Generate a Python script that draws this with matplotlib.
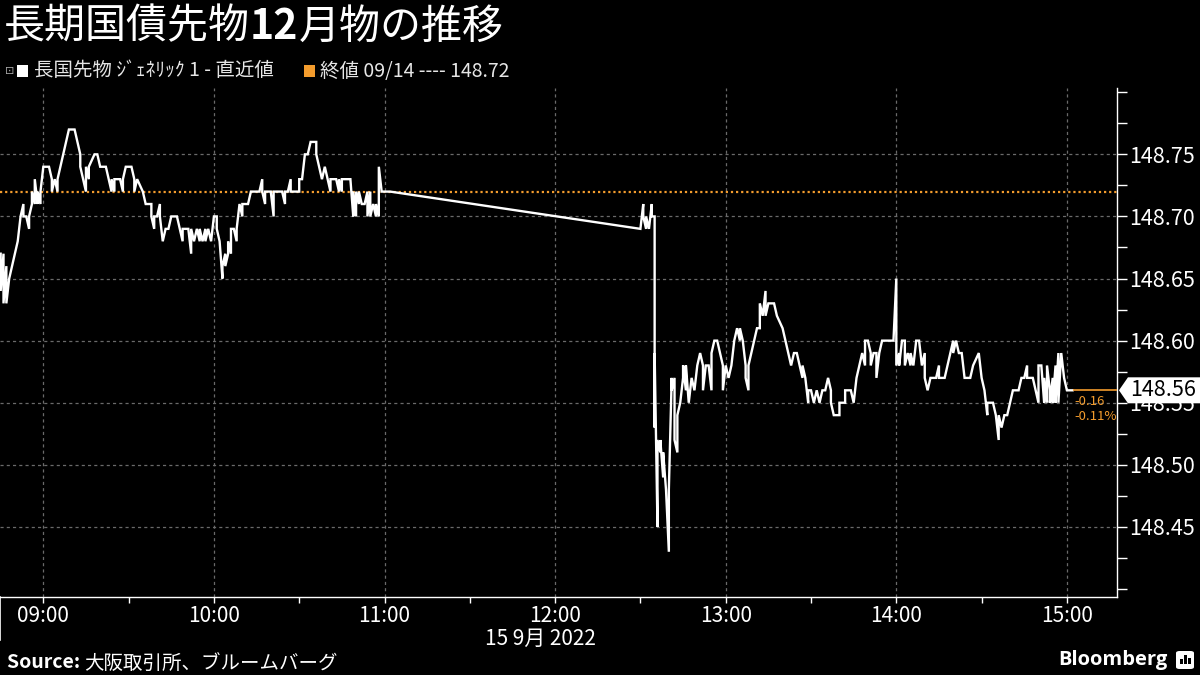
import matplotlib
matplotlib.use("Agg")
import matplotlib.pyplot as plt
import matplotlib.dates as mdates
from matplotlib.patches import Polygon, Rectangle, FancyBboxPatch
from matplotlib.transforms import IdentityTransform
import numpy as np
import pandas as pd

plt.rcParams['font.family'] = ['Noto Sans CJK JP', 'DejaVu Sans']

# JGB 10y futures (Dec contract), 15 Sep 2022
day = "2022-09-15"
prev_close = 148.72

am_times = ["08:45", "08:45", "08:46", "08:46", "08:47", "08:47", "08:48", "08:49", "08:50", "08:51",
            "08:52", "08:53", "08:53", "08:54", "08:55", "08:55", "08:56", "08:56", "08:57", "08:57",
            "08:58", "08:58", "08:59", "08:59", "09:00", "09:02", "09:03", "09:03", "09:04", "09:05",
            "09:05", "09:06", "09:07", "09:08", "09:09", "09:11", "09:12", "09:13", "09:13", "09:14",
            "09:15", "09:15", "09:16", "09:16", "09:18", "09:19", "09:20", "09:22", "09:23", "09:24",
            "09:24", "09:25", "09:25", "09:27", "09:28", "09:28", "09:29", "09:31", "09:32", "09:32",
            "09:33", "09:35", "09:36", "09:38", "09:38", "09:39", "09:39", "09:40", "09:41", "09:41",
            "09:42", "09:43", "09:44", "09:45", "09:47", "09:48", "09:49", "09:49", "09:51", "09:52",
            "09:52", "09:53", "09:54", "09:55", "09:55", "09:56", "09:57", "09:57", "09:58", "09:59",
            "10:00", "10:01", "10:01", "10:02", "10:03", "10:03", "10:04", "10:04", "10:05", "10:05",
            "10:06", "10:06", "10:07", "10:08", "10:08", "10:09", "10:10", "10:10", "10:12", "10:13",
            "10:16", "10:17", "10:17", "10:18", "10:18", "10:20", "10:21", "10:21", "10:24", "10:25",
            "10:25", "10:26", "10:27", "10:27", "10:30", "10:30", "10:31", "10:32", "10:33", "10:34",
            "10:36", "10:36", "10:37", "10:38", "10:39", "10:40", "10:41", "10:41", "10:43", "10:44",
            "10:44", "10:45", "10:45", "10:48", "10:49", "10:49", "10:50", "10:50", "10:51", "10:51",
            "10:52", "10:53", "10:54", "10:54", "10:55", "10:55", "10:56", "10:57", "10:57", "10:58",
            "10:58", "10:59", "11:02"]
am_prices = [148.67, 148.64, 148.67, 148.63, 148.66, 148.63, 148.65, 148.66, 148.67, 148.68,
             148.70, 148.71, 148.70, 148.70, 148.69, 148.70, 148.71, 148.72, 148.71, 148.73,
             148.71, 148.72, 148.71, 148.72, 148.74, 148.74, 148.73, 148.72, 148.73, 148.72,
             148.73, 148.74, 148.75, 148.76, 148.77, 148.77, 148.76, 148.75, 148.74, 148.73,
             148.72, 148.74, 148.73, 148.74, 148.75, 148.75, 148.74, 148.74, 148.73, 148.72,
             148.73, 148.72, 148.73, 148.73, 148.72, 148.73, 148.74, 148.74, 148.73, 148.72,
             148.73, 148.72, 148.71, 148.71, 148.70, 148.69, 148.70, 148.70, 148.71, 148.70,
             148.68, 148.69, 148.69, 148.70, 148.70, 148.69, 148.68, 148.69, 148.69, 148.67,
             148.69, 148.68, 148.69, 148.68, 148.69, 148.68, 148.69, 148.68, 148.69, 148.68,
             148.70, 148.70, 148.69, 148.68, 148.65, 148.66, 148.67, 148.66, 148.67, 148.68,
             148.67, 148.69, 148.69, 148.68, 148.69, 148.71, 148.70, 148.71, 148.71, 148.72,
             148.72, 148.73, 148.72, 148.71, 148.72, 148.72, 148.70, 148.72, 148.72, 148.71,
             148.72, 148.72, 148.73, 148.72, 148.72, 148.73, 148.73, 148.75, 148.75, 148.76,
             148.76, 148.75, 148.74, 148.73, 148.74, 148.73, 148.72, 148.73, 148.73, 148.72,
             148.73, 148.72, 148.73, 148.73, 148.70, 148.72, 148.70, 148.72, 148.71, 148.72,
             148.71, 148.71, 148.72, 148.70, 148.72, 148.70, 148.71, 148.70, 148.71, 148.70,
             148.74, 148.72, 148.72]

pm_times = ["12:30", "12:31", "12:31", "12:32", "12:32", "12:33", "12:34", "12:34", "12:35", "12:35",
            "12:35", "12:36", "12:36", "12:37", "12:37", "12:38", "12:38", "12:39", "12:40", "12:40",
            "12:41", "12:41", "12:42", "12:42", "12:43", "12:43", "12:44", "12:45", "12:45", "12:46",
            "12:46", "12:47", "12:48", "12:49", "12:50", "12:51", "12:52", "12:52", "12:53", "12:54",
            "12:55", "12:55", "12:56", "12:57", "12:58", "12:59", "12:59", "13:00", "13:01", "13:02",
            "13:03", "13:04", "13:05", "13:05", "13:06", "13:07", "13:07", "13:08", "13:08", "13:10",
            "13:11", "13:12", "13:12", "13:13", "13:14", "13:14", "13:15", "13:17", "13:18", "13:20",
            "13:21", "13:22", "13:23", "13:24", "13:25", "13:26", "13:27", "13:27", "13:28", "13:29",
            "13:29", "13:30", "13:31", "13:32", "13:33", "13:34", "13:35", "13:36", "13:37", "13:37",
            "13:38", "13:40", "13:40", "13:42", "13:42", "13:44", "13:45", "13:46", "13:47", "13:48",
            "13:49", "13:49", "13:50", "13:51", "13:51", "13:52", "13:53", "13:53", "13:54", "13:55",
            "13:59", "14:00", "14:00", "14:01", "14:01", "14:02", "14:03", "14:03", "14:04", "14:05",
            "14:05", "14:06", "14:07", "14:08", "14:09", "14:10", "14:10", "14:11", "14:12", "14:14",
            "14:15", "14:15", "14:17", "14:18", "14:19", "14:20", "14:20", "14:21", "14:22", "14:23",
            "14:24", "14:26", "14:27", "14:29", "14:30", "14:31", "14:32", "14:32", "14:34", "14:35",
            "14:36", "14:36", "14:37", "14:38", "14:39", "14:40", "14:41", "14:43", "14:44", "14:45",
            "14:46", "14:46", "14:48", "14:49", "14:50", "14:50", "14:51", "14:52", "14:52", "14:53",
            "14:53", "14:54", "14:54", "14:55", "14:55", "14:56", "14:56", "14:57", "14:57", "14:58",
            "14:59", "15:00", "15:02"]
pm_prices = [148.69, 148.71, 148.70, 148.69, 148.70, 148.69, 148.71, 148.70, 148.70, 148.53,
             148.59, 148.45, 148.52, 148.51, 148.52, 148.49, 148.51, 148.48, 148.43, 148.48,
             148.57, 148.56, 148.57, 148.52, 148.51, 148.54, 148.55, 148.57, 148.58, 148.56,
             148.58, 148.55, 148.57, 148.56, 148.58, 148.59, 148.58, 148.56, 148.58, 148.58,
             148.56, 148.59, 148.60, 148.60, 148.59, 148.58, 148.56, 148.58, 148.57, 148.58,
             148.60, 148.61, 148.60, 148.61, 148.60, 148.58, 148.57, 148.56, 148.58, 148.60,
             148.61, 148.61, 148.63, 148.62, 148.64, 148.62, 148.63, 148.63, 148.62, 148.61,
             148.60, 148.59, 148.58, 148.59, 148.59, 148.58, 148.57, 148.58, 148.57, 148.55,
             148.56, 148.56, 148.55, 148.56, 148.55, 148.56, 148.56, 148.57, 148.56, 148.55,
             148.54, 148.54, 148.55, 148.55, 148.56, 148.56, 148.55, 148.57, 148.58, 148.59,
             148.58, 148.60, 148.60, 148.59, 148.58, 148.59, 148.59, 148.57, 148.59, 148.60,
             148.60, 148.65, 148.58, 148.59, 148.58, 148.60, 148.60, 148.58, 148.59, 148.58,
             148.59, 148.58, 148.60, 148.60, 148.58, 148.59, 148.57, 148.56, 148.57, 148.57,
             148.58, 148.57, 148.57, 148.58, 148.59, 148.60, 148.59, 148.60, 148.59, 148.59,
             148.57, 148.57, 148.58, 148.59, 148.57, 148.56, 148.54, 148.55, 148.55, 148.54,
             148.52, 148.54, 148.53, 148.54, 148.54, 148.55, 148.56, 148.56, 148.57, 148.57,
             148.58, 148.57, 148.57, 148.56, 148.55, 148.58, 148.58, 148.55, 148.57, 148.55,
             148.58, 148.56, 148.55, 148.57, 148.55, 148.58, 148.55, 148.59, 148.55, 148.59,
             148.57, 148.56, 148.56]

times = pd.to_datetime([day + " " + t for t in am_times + pm_times])
prices = am_prices + pm_prices
last = prices[-1]
chg = last - prev_close
chg_pct = chg / prev_close * 100

ORANGE = '#f39c2d'
GRID = '#6a6a6a'

fig = plt.figure(figsize=(12, 6.75), dpi=100, facecolor='black')
ax = fig.add_axes([0, 0.1156, 0.9308, 0.7540])
ax.set_facecolor('black')

ax.plot(times, prices, color='white', lw=1.7, zorder=3, solid_joinstyle='miter')
ax.axhline(prev_close, color=ORANGE, lw=1.6, ls=(0, (1, 1.3)), zorder=2)

x_left = pd.Timestamp(day + " 08:44:46")
x_right = pd.Timestamp(day + " 15:17:36")
ax.set_xlim(x_left, x_right)
ax.set_ylim(148.3936, 148.8034)

# last price guide and change labels
ax.hlines(last, times[-1], x_right, color=ORANGE, lw=1.2, zorder=3)
ax.annotate(f"{chg:.2f}", (times[-1], last), xytext=(2, -11), textcoords='offset pixels',
            color=ORANGE, fontsize=9.5, va='center', ha='left')
ax.annotate(f"{chg_pct:.2f}%", (times[-1], last), xytext=(2, -26), textcoords='offset pixels',
            color=ORANGE, fontsize=9.5, va='center', ha='left')

# axes styling
for s in ['top', 'left']:
    ax.spines[s].set_visible(False)
for s in ['right', 'bottom']:
    ax.spines[s].set_color('white')
    ax.spines[s].set_linewidth(1.0)

ax.yaxis.tick_right()
ax.set_yticks(np.round(np.arange(148.45, 148.751, 0.05), 2))
ax.set_yticks(np.round(np.arange(148.40, 148.801, 0.025), 3), minor=True)
ax.yaxis.set_major_formatter(matplotlib.ticker.FormatStrFormatter('%.2f'))
ax.tick_params(axis='y', which='both', colors='white', length=7, width=1, labelsize=15.5, pad=2)

ax.xaxis.set_major_locator(mdates.HourLocator())
ax.xaxis.set_minor_locator(mdates.MinuteLocator(byminute=[30]))
ax.xaxis.set_major_formatter(mdates.DateFormatter('%H:%M'))
ax.tick_params(axis='x', which='both', colors='white', length=4, width=1, labelsize=15, pad=2)

ax.grid(True, which='major', color=GRID, lw=0.9, ls=(0, (2.5, 2.5)))

# day separator under the x axis
ax.plot([0, 0], [0, -0.085], transform=ax.transAxes, color='white', lw=1.2, clip_on=False)
fig.text(540 / 1200, 1 - 639 / 675, "15 9月 2022", color='white', fontsize=15, ha='center', va='center')

fig.canvas.draw()

# last price tag
x0, y0 = ax.transData.transform((mdates.date2num(x_right), last))
tag = Polygon([(x0 + 2, y0), (x0 + 11, y0 + 13), (x0 + 90, y0 + 13), (x0 + 90, y0 - 13), (x0 + 11, y0 - 13)],
              closed=True, facecolor='white', edgecolor='none', transform=IdentityTransform(), zorder=5)
fig.add_artist(tag)
fig.text((x0 + 13) / 1200, y0 / 675, f"{last:.2f}", color='black', fontsize=15.5, ha='left', va='center', zorder=6)

# title with bold "12"
renderer = fig.canvas.get_renderer()
tx = 4 / 1200
ty = 1 - 27 / 675
for part, w in [("長期国債先物", 'normal'), ("12", 'bold'), ("月物の推移", 'normal')]:
    t = fig.text(tx, ty, part, color='white', fontsize=29.5, fontweight=w, ha='left', va='center')
    bb = t.get_window_extent(renderer)
    tx = bb.x1 / 1200

# legend row
fig.text(5 / 1200, 1 - 71 / 675, "⊡", color='#aaaaaa', fontsize=8, ha='left', va='center', family='DejaVu Sans')
fig.add_artist(Rectangle((17 / 1200, 1 - 77 / 675), 11 / 1200, 12 / 675, facecolor='white', transform=fig.transFigure))
fig.text(34 / 1200, 1 - 71 / 675, "長国先物 ｼﾞｪﾈﾘｯｸ 1 - 直近値", color='#e6e6e6', fontsize=14, ha='left', va='center')
fig.add_artist(Rectangle((304 / 1200, 1 - 77 / 675), 11 / 1200, 12 / 675, facecolor=ORANGE, transform=fig.transFigure))
fig.text(320 / 1200, 1 - 71 / 675, f"終値 09/14 ---- {prev_close:.2f}", color='#e6e6e6', fontsize=14, ha='left', va='center')

# footer
t = fig.text(7 / 1200, 1 - 663 / 675, "Source: ", color='white', fontsize=14, fontweight='bold', ha='left', va='center')
bb = t.get_window_extent(renderer)
fig.text(bb.x1 / 1200, 1 - 663 / 675, "大阪取引所、ブルームバーグ", color='white', fontsize=14, ha='left', va='center')

fig.text(1167 / 1200, 1 - 660 / 675, "Bloomberg", color='white', fontsize=14.5, fontweight='bold',
         family='Open Sans', ha='right', va='center')
fig.add_artist(FancyBboxPatch((1176 / 1200, 1 - 669 / 675), 18 / 1200, 18 / 675,
                              boxstyle='round,pad=0,rounding_size=0.003', facecolor='white',
                              edgecolor='none', transform=fig.transFigure))
for bx, bh in [(1180, 5), (1184, 9), (1188, 6)]:
    fig.add_artist(Rectangle((bx / 1200, 1 - 664 / 675), 2.5 / 1200, bh / 675, facecolor='black',
                             transform=fig.transFigure))

fig.savefig("out.png", dpi=100, facecolor='black')
